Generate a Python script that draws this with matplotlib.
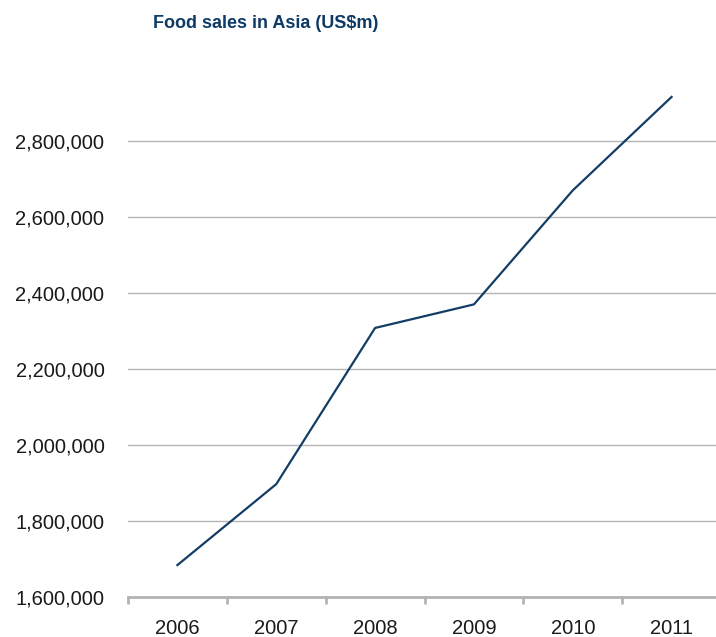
import matplotlib.pyplot as plt
from matplotlib.ticker import FuncFormatter

# data
years = ['2006', '2007', '2008', '2009', '2010', '2011']
sales = [1684000, 1897000, 2308000, 2370000, 2670000, 2916000]
y_ticks = [1600000, 1800000, 2000000, 2200000, 2400000, 2600000, 2800000]

plt.rcParams['font.family'] = ['Liberation Sans', 'DejaVu Sans']

fig = plt.figure(figsize=(7.16, 6.37), dpi=100)
ax = fig.add_axes([128 / 716, 40 / 637, 593 / 716, 532 / 637])

x = [i + 0.5 for i in range(len(years))]
ax.plot(x, sales, color='#143d66', linewidth=1.6, solid_joinstyle='round')

ax.set_xlim(0, len(years))
ax.set_ylim(1600000, 3000000)
ax.set_yticks(y_ticks)
ax.yaxis.set_major_formatter(FuncFormatter(lambda v, p: f'{int(v):,}'))
ax.set_xticks(x)
ax.set_xticklabels(years)
ax.set_xticks(range(len(years) + 1), minor=True)

ax.grid(axis='y', color='#b4b4b4', linewidth=1.0)
ax.set_axisbelow(True)
for s in ['top', 'right', 'left']:
    ax.spines[s].set_visible(False)
ax.spines['bottom'].set_color('#b4b4b4')
ax.spines['bottom'].set_linewidth(2)

ax.tick_params(axis='y', length=0, pad=17, labelsize=14.5, labelcolor='#1a1a1a')
ax.tick_params(axis='x', which='major', length=0, pad=16, labelsize=14.5, labelcolor='#1a1a1a')
ax.tick_params(axis='x', which='minor', length=5, width=2, color='#b4b4b4', direction='out')

fig.text(266 / 716, 1 - 23 / 637, 'Food sales in Asia (US$m)', ha='center', va='center',
         fontsize=13, fontweight='bold', color='#0d3a66')

fig.savefig('out.png', dpi=100)
